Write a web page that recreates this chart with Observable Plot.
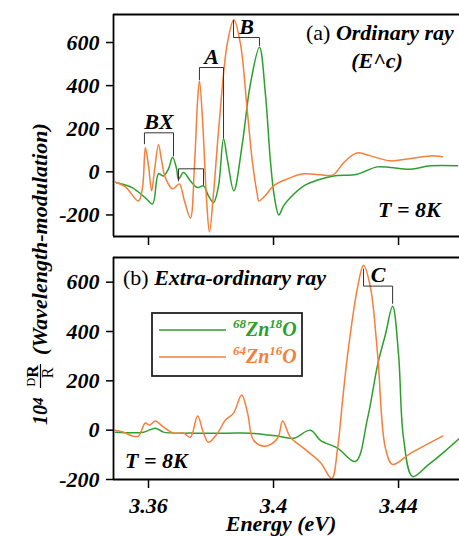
<!DOCTYPE html>
<html><head><meta charset="utf-8">
<script src="https://cdn.jsdelivr.net/npm/d3@7"></script>
<script src="https://cdn.jsdelivr.net/npm/@observablehq/plot@0.6"></script>
<style>
body{margin:0;background:#fff;}
#chart{position:relative;width:459px;height:536px;overflow:hidden;background:#fff;}
#chart svg{position:absolute;left:0;}
.f1{font-family:"Liberation Serif","Times New Roman",serif;}
</style></head><body><div id="chart"></div>
<script>
// ---------- data ----------
const xTicks = [3.36, 3.40, 3.44];
const yTicks = [-200, 0, 200, 400, 600];
const seriesNames = ["68Zn18O", "64Zn16O"];
const seriesColors = ["#2ca02c", "#f67f3a"];

// Panel (a) Ordinary ray  [Energy eV, 10^4 dR/R]
const a64 = [[3.3494,-47],[3.3526,-70],[3.3568,-135],[3.3581,-70],[3.3590,112],[3.3600,28],[3.3610,-88],[3.3619,5],[3.3632,126],[3.3642,51],[3.3654,-28],[3.3677,-79],[3.3690,-65],[3.3699,-56],[3.3715,-135],[3.3734,-214],[3.3747,28],[3.3757,330],[3.3763,423],[3.3773,237],[3.3786,-135],[3.3795,-279],[3.3808,-100],[3.3825,206],[3.3852,595],[3.3873,706],[3.3894,595],[3.3916,284],[3.3932,51],[3.3948,-104],[3.3953,-135],[3.3974,-110],[3.4000,-65],[3.4042,-34],[3.4096,-9],[3.4150,-14],[3.4190,-14],[3.4224,42],[3.4255,80],[3.4272,88],[3.4310,74],[3.4374,51],[3.4429,60],[3.4502,74],[3.4541,70]];
const a68 = [[3.3498,-51],[3.3549,-74],[3.3590,-121],[3.3613,-149],[3.3632,-9],[3.3648,-19],[3.3664,14],[3.3677,68],[3.3690,14],[3.3696,-34],[3.3712,-3],[3.3734,-42],[3.3757,-73],[3.3776,-65],[3.3792,-112],[3.3808,-143],[3.3824,-65],[3.3840,153],[3.3853,51],[3.3873,-88],[3.3900,129],[3.3926,408],[3.3955,578],[3.3974,361],[3.3990,51],[3.4003,-119],[3.4017,-200],[3.4032,-158],[3.4054,-119],[3.4097,-65],[3.4139,-39],[3.4192,-19],[3.4267,-11],[3.4331,23],[3.4374,20],[3.4438,12],[3.4502,28],[3.4589,28]];

// Panel (b) Extra-ordinary ray
const b64 = [[3.3494,0],[3.3520,-8],[3.3549,-24],[3.3568,-24],[3.3590,29],[3.3603,20],[3.3622,37],[3.3648,12],[3.3680,-12],[3.3712,-12],[3.3734,-29],[3.3757,57],[3.3776,-12],[3.3792,-49],[3.3821,-12],[3.3846,41],[3.3872,69],[3.3898,143],[3.3917,69],[3.3936,-41],[3.3974,-65],[3.4013,-33],[3.4029,37],[3.4054,-29],[3.4096,-73],[3.4150,-131],[3.4186,-196],[3.4205,-73],[3.4221,122],[3.4237,306],[3.4269,580],[3.4288,669],[3.4310,580],[3.4333,306],[3.4358,-73],[3.4381,-139],[3.4438,-94],[3.4541,-24]];
const b68 = [[3.3494,-8],[3.3584,-8],[3.3622,8],[3.3648,-8],[3.3744,-12],[3.3853,-12],[3.3926,-12],[3.4013,-24],[3.4064,-33],[3.4118,0],[3.4150,-41],[3.4205,-73],[3.4262,-127],[3.4301,49],[3.4333,265],[3.4358,388],[3.4381,502],[3.4400,306],[3.4416,-33],[3.4445,-188],[3.4493,-143],[3.4544,-90],[3.4595,-33]];

// peak-assignment brackets
const bracketsA = [
  {label:"BX", x1:3.3587, x2:3.3680, y:181, y1:130, y2:74},
  {label:"",   x1:3.3696, x2:3.3776, y:14,  y1:-42, y2:-60},
  {label:"A",  x1:3.3763, x2:3.3840, y:484, y1:428, y2:158},
  {label:"B",  x1:3.3872, x2:3.3955, y:623, y1:702, y2:586}
];
const bracketsB = [
  {label:"C",  x1:3.4288, x2:3.4381, y:584, y1:653, y2:514}
];
const xDomain = [3.3488, 3.4595];

// ---------- helpers ----------
const FONT = '"Liberation Serif", "Times New Roman", serif';
const toRows = (pairs, s) => pairs.map(([E, v]) => ({E, v, s}));
const bracketRows = (bs) => bs.flatMap((b, i) => [
  {E:b.x1, v:b.y1, id:i}, {E:b.x1, v:b.y, id:i}, {E:b.x2, v:b.y, id:i}, {E:b.x2, v:b.y2, id:i}
]);

function panel({height, marginTop, marginBottom, yDomain, rows, brackets, xLabels}) {
  const marks = [
    Plot.axisY({ticks: yTicks, tickSize: 7, tickPadding: 7, tickFormat: d => String(d), label: null, strokeWidth: 1.5}),
    Plot.axisX({ticks: xTicks, tickSize: 9, tickPadding: 9, tickFormat: xLabels ? (d => String(d)) : (() => ""), label: null, strokeWidth: 1.5}),
    Plot.line(rows, {x: "E", y: "v", z: "s", stroke: "s", strokeWidth: 1.5, curve: "catmull-rom"}),
    Plot.line(bracketRows(brackets), {x: "E", y: "v", z: "id", stroke: "#333", strokeWidth: 1}),
    Plot.text(brackets, {x: d => (d.x1 + d.x2) / 2, y: "y", text: "label", lineAnchor: "bottom", dy: -4, fontSize: 22}),
    Plot.ruleX([xDomain[0]], {strokeWidth: 1.8}),
    Plot.ruleY([yDomain[0], yDomain[1]], {strokeWidth: 1.8})
  ];
  return Plot.plot({
    width: 459, height, marginLeft: 113, marginRight: 0, marginTop, marginBottom,
    x: {domain: xDomain, label: null},
    y: {domain: yDomain, label: null},
    color: {domain: seriesNames, range: seriesColors},
    style: {fontFamily: FONT, fontSize: "22px", fontWeight: "bold", fontStyle: "italic", background: "transparent", color: "#000", overflow: "visible"},
    marks
  });
}

function richText(sel, x, y, parts, anchor = "start") {
  const t = sel.append("text").attr("x", x).attr("y", y).attr("text-anchor", anchor)
    .attr("class", "f1").attr("fill", "#000");
  parts.forEach(p => {
    const ts = t.append("tspan").text(p.t)
      .attr("font-size", p.size || 22)
      .attr("font-weight", p.bold === false ? "normal" : "bold")
      .attr("font-style", p.italic === false ? "normal" : "italic");
    if (p.dy) ts.attr("dy", p.dy);
    if (p.fill) ts.attr("fill", p.fill);
  });
  return t;
}

const chart = document.getElementById("chart");

// ---------- panel (a) ----------
const svgA = panel({height: 250, marginTop: 14, marginBottom: 14, yDomain: [-300, 730],
  rows: [...toRows(a68, seriesNames[0]), ...toRows(a64, seriesNames[1])], brackets: bracketsA, xLabels: false});
svgA.style.top = "0px";
chart.appendChild(svgA);
const sa = d3.select(svgA);
richText(sa, 306, 40, [{t: "(a) ", bold: false, italic: false}, {t: "Ordinary ray"}]);
richText(sa, 377, 68, [{t: "(E^c)"}], "middle");
richText(sa, 378, 217, [{t: "T = 8K"}]);

// ---------- panel (b) ----------
const svgB = panel({height: 286, marginTop: 7, marginBottom: 57, yDomain: [-200, 700],
  rows: [...toRows(b68, seriesNames[0]), ...toRows(b64, seriesNames[1])], brackets: bracketsB, xLabels: true});
svgB.style.top = "250px";
chart.appendChild(svgB);
const sb = d3.select(svgB);
richText(sb, 123, 35, [{t: "(b) ", bold: false, italic: false}, {t: "Extra-ordinary ray"}]);
richText(sb, 125, 218, [{t: "T = 8K"}]);
richText(sb, 281, 280.5, [{t: "Energy (eV)"}], "middle");

// legend
const lg = sb.append("g");
lg.append("rect").attr("x", 152).attr("y", 63).attr("width", 150).attr("height", 63)
  .attr("fill", "#fff").attr("stroke", "#222").attr("stroke-width", 1.8);
seriesNames.forEach((name, i) => {
  const yy = 80 + i * 27;
  lg.append("line").attr("x1", 159).attr("x2", 226).attr("y1", yy).attr("y2", yy)
    .attr("stroke", seriesColors[i]).attr("stroke-width", 1.5);
  const m = name.match(/^(\d+)Zn(\d+)O$/);
  richText(lg, 233, yy + 5.5, [
    {t: m[1], size: 13, dy: -8, fill: seriesColors[i]},
    {t: "Zn", size: 20, dy: 8, fill: seriesColors[i]},
    {t: m[2], size: 13, dy: -8, fill: seriesColors[i]},
    {t: "O", size: 20, dy: 8, fill: seriesColors[i]}
  ]);
});

// ---------- y-axis title ----------
const ySvg = d3.select(chart).append("svg").attr("width", 60).attr("height", 536).style("top", "0px");
const g = ySvg.append("g").attr("transform", "translate(47,425) rotate(-90)");
richText(g, 0, 0, [{t: "10", size: 20}, {t: "4", size: 15, dy: -4}]);
richText(g, 49, -9, [{t: "D", size: 12, bold: false, italic: false, dy: -3}, {t: "R", size: 17, italic: false, dy: 3}], "middle");
g.append("line").attr("x1", 37).attr("x2", 61).attr("y1", -6.5).attr("y2", -6.5).attr("stroke", "#000").attr("stroke-width", 1.2);
richText(g, 52, 6, [{t: "R", size: 16, bold: false, italic: false}], "middle");
richText(g, 70, 0, [{t: "(Wavelength-modulation)"}]);
</script></body></html>
